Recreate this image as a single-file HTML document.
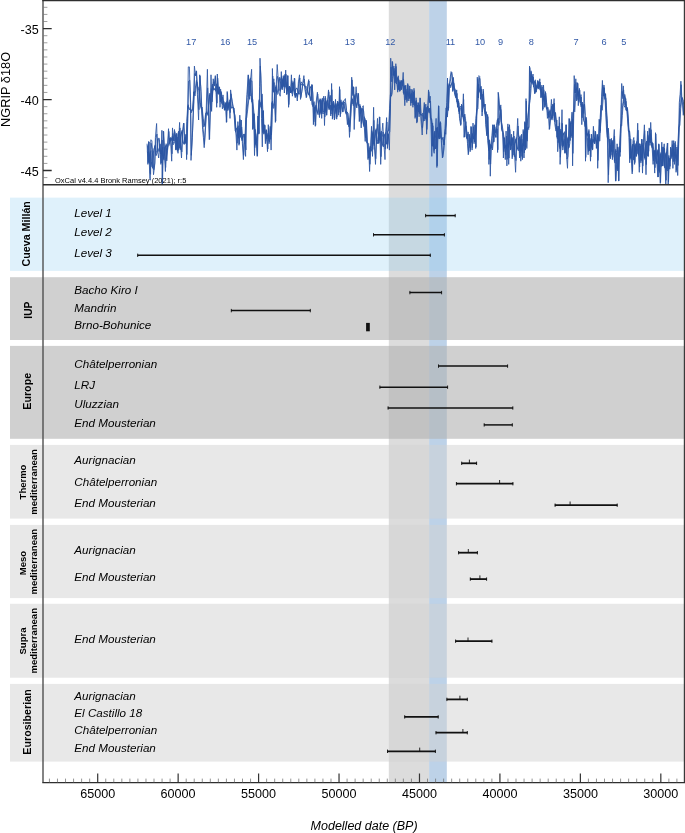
<!DOCTYPE html><html><head><meta charset="utf-8"><title>fig</title>
<style>html,body{margin:0;padding:0;background:#fff}svg{display:block}text{font-family:"Liberation Sans",sans-serif}</style></head><body>
<svg width="685" height="833" viewBox="0 0 685 833">
<rect width="685" height="833" fill="#fff"/>
<rect x="388.8" y="0" width="40.3" height="782.6" fill="#dcdcdc"/>
<rect x="429.1" y="0" width="17.7" height="782.6" fill="#bdd2e8"/>
<rect x="10" y="197.6" width="674.5" height="73.3" fill="rgb(148,208,242)" fill-opacity="0.3"/>
<rect x="10" y="277.2" width="674.5" height="62.8" fill="rgb(178,178,178)" fill-opacity="0.61"/>
<rect x="10" y="345.9" width="674.5" height="92.9" fill="rgb(178,178,178)" fill-opacity="0.61"/>
<rect x="10" y="444.9" width="674.5" height="73.7" fill="rgb(209,209,209)" fill-opacity="0.5"/>
<rect x="10" y="524.9" width="674.5" height="73.2" fill="rgb(209,209,209)" fill-opacity="0.5"/>
<rect x="10" y="603.8" width="674.5" height="73.9" fill="rgb(209,209,209)" fill-opacity="0.5"/>
<rect x="10" y="683.9" width="674.5" height="77.7" fill="rgb(209,209,209)" fill-opacity="0.5"/>
<path d="M147.44 145.4 L148.23 162.7 L149.03 142.0 L150.14 173.0 L150.61 174.3 L151.09 143.2 L152.20 149.6 L153.78 169.8 L154.89 163.1 L155.68 138.7 L156.95 134.1 L157.74 147.4 L159.01 151.6 L160.12 144.3 L161.23 163.0 L162.18 140.1 L162.50 183.7 L163.61 131.5 L164.87 155.4 L165.67 167.5 L166.46 148.7 L167.57 148.8 L168.84 131.4 L169.63 142.0 L170.74 138.4 L172.01 153.8 L172.80 133.4 L173.91 140.9 L174.86 131.6 L175.97 149.2 L177.08 137.0 L178.34 150.3 L179.93 127.9 L180.72 142.9 L181.83 151.9 L182.78 133.9 L183.89 123.2 L185.00 143.7 L186.27 134.7 L186.90 154.6 L187.85 118.7 L188.65 81.1 L189.76 80.1 L190.71 104.5 L191.34 155.3 L192.61 130.3 L193.88 102.0 L194.67 73.6 L195.78 75.7 L196.57 71.3 L197.68 92.4 L198.95 109.7 L200.06 75.8 L201.01 91.2 L201.80 107.3 L202.91 127.1 L203.70 134.0 L204.49 144.5 L205.60 126.9 L206.55 110.9 L207.66 87.9 L208.46 103.7 L209.57 139.0 L210.52 107.0 L211.31 88.5 L212.42 97.2 L213.53 81.7 L214.48 86.1 L215.59 76.6 L216.38 91.6 L217.01 103.2 L217.65 78.0 L218.76 93.3 L219.55 87.2 L220.34 101.8 L221.45 92.7 L222.72 105.1 L223.99 102.3 L225.10 109.9 L225.89 103.6 L226.68 122.1 L227.47 92.8 L228.27 107.7 L229.37 102.5 L230.33 112.6 L230.96 93.8 L232.23 101.2 L233.81 110.2 L235.31 120.4 L236.10 131.1 L237.21 143.2 L238.16 125.7 L239.27 144.0 L240.06 119.5 L240.86 135.6 L241.65 127.0 L242.76 141.6 L243.71 155.4 L244.82 136.6 L245.93 149.9 L246.40 110.4 L247.20 97.6 L248.46 75.2 L249.26 91.8 L250.05 96.0 L250.84 80.8 L251.95 80.9 L252.43 95.8 L253.06 128.7 L254.01 113.8 L254.80 147.7 L255.60 133.7 L256.70 143.3 L257.50 155.8 L258.29 116.0 L259.08 133.5 L259.87 87.4 L260.35 66.1 L261.14 83.6 L261.78 109.9 L262.57 132.6 L263.36 110.8 L264.15 133.4 L264.95 125.3 L265.74 141.2 L266.53 130.0 L267.80 149.0 L268.59 128.4 L269.38 141.9 L270.49 127.4 L271.44 134.9 L272.08 117.8 L272.71 76.0 L273.34 92.3 L274.14 82.5 L274.93 100.3 L275.72 121.1 L276.51 88.3 L277.47 76.4 L278.42 79.5 L279.37 90.2 L280.48 91.2 L281.59 76.5 L282.54 87.8 L283.65 77.1 L284.76 87.2 L286.02 74.3 L286.97 94.2 L287.92 75.7 L288.88 104.6 L289.83 86.8 L290.78 92.7 L291.73 80.5 L292.68 91.5 L293.63 88.6 L294.74 78.6 L295.53 96.9 L296.64 93.0 L297.59 97.3 L298.70 83.4 L299.81 78.0 L300.76 97.7 L301.87 91.2 L302.98 83.5 L304.25 79.0 L305.36 89.4 L306.63 97.0 L307.73 86.9 L309.00 81.0 L309.79 95.4 L311.06 99.9 L312.17 85.0 L312.96 96.0 L313.76 122.0 L314.55 107.5 L315.66 125.3 L316.45 103.9 L317.72 94.0 L318.83 107.1 L319.78 114.7 L320.89 101.1 L322.00 113.9 L322.95 102.4 L324.06 98.4 L324.85 116.9 L325.64 98.2 L326.75 115.2 L327.70 102.4 L328.81 91.8 L329.92 106.4 L330.31 105.1 L331.10 114.1 L331.89 89.7 L332.69 118.3 L333.80 102.6 L334.75 118.7 L335.86 103.6 L336.97 117.1 L337.92 101.8 L339.03 112.4 L339.82 89.4 L340.61 113.9 L341.72 102.9 L342.99 111.8 L344.26 102.0 L345.68 103.6 L346.63 110.7 L347.74 123.6 L349.01 120.6 L349.80 131.8 L350.91 114.9 L352.02 79.9 L352.97 96.3 L353.76 87.3 L354.56 119.6 L355.35 102.3 L356.46 93.0 L357.57 100.8 L358.52 93.9 L359.63 121.1 L360.42 106.0 L361.53 123.5 L362.48 108.7 L363.59 111.0 L364.38 121.6 L365.49 137.7 L366.44 121.4 L367.55 143.7 L368.34 158.1 L369.14 150.2 L369.93 164.3 L370.72 150.4 L371.83 130.7 L372.78 149.5 L373.89 120.3 L374.68 145.4 L375.79 158.7 L376.74 135.9 L377.85 124.3 L378.96 143.1 L379.76 117.0 L381.02 156.7 L382.13 137.5 L383.08 132.0 L384.19 143.4 L385.30 149.2 L386.09 132.4 L386.89 122.0 L387.68 144.3 L388.63 134.0 L389.74 131.7 L390.53 104.2 L391.01 67.1 L391.80 81.8 L392.59 62.4 L393.38 74.9 L394.18 68.3 L394.97 82.8 L396.08 66.4 L396.87 80.5 L397.98 90.2 L398.93 80.0 L400.04 90.9 L401.31 80.5 L402.42 85.4 L403.53 79.0 L404.32 90.6 L405.11 99.9 L406.06 89.3 L407.17 100.7 L407.96 84.7 L409.07 98.8 L410.02 88.9 L411.13 103.1 L412.24 90.4 L413.19 105.0 L414.30 90.6 L415.41 117.0 L416.36 100.3 L417.16 121.8 L418.27 102.8 L419.37 113.6 L420.33 98.2 L421.44 121.0 L422.54 127.9 L423.50 116.1 L424.60 104.9 L425.31 118.2 L426.10 107.5 L426.89 129.5 L427.69 114.9 L428.80 91.7 L429.75 102.6 L430.54 101.0 L431.33 124.0 L432.12 146.0 L432.92 125.7 L433.71 149.5 L434.50 150.2 L435.29 138.5 L436.40 127.7 L437.20 165.8 L437.99 134.2 L438.78 106.0 L439.57 136.5 L440.68 122.8 L441.63 140.3 L442.74 157.3 L443.85 149.9 L445.12 131.8 L446.23 124.0 L447.02 105.1 L447.81 83.5 L448.61 108.2 L449.40 86.3 L450.35 81.3 L451.46 72.5 L452.25 75.6 L453.04 90.5 L453.84 83.3 L454.95 93.5 L456.21 97.7 L457.01 93.4 L457.80 105.4 L458.91 102.8 L459.86 117.4 L460.97 124.5 L461.76 105.3 L462.71 115.2 L463.66 99.5 L464.45 137.0 L465.25 126.5 L466.20 126.0 L466.99 133.6 L467.78 141.5 L468.57 153.3 L469.68 135.7 L470.48 149.7 L471.27 127.2 L472.38 147.6 L473.33 126.7 L474.44 142.0 L475.23 125.3 L476.02 147.2 L476.82 116.4 L477.61 79.1 L478.40 97.7 L479.19 77.9 L479.99 78.8 L480.78 96.1 L481.57 90.2 L482.36 112.0 L483.47 91.4 L484.26 106.8 L485.21 104.2 L486.01 122.9 L487.12 134.1 L487.91 116.6 L488.70 139.1 L489.18 159.5 L489.97 144.2 L490.60 164.1 L491.40 144.0 L492.19 138.4 L493.14 124.9 L493.93 141.8 L494.72 126.9 L495.83 133.4 L496.63 128.4 L497.42 129.0 L497.89 149.8 L498.53 93.6 L499.48 107.2 L500.27 109.7 L501.06 109.5 L501.86 129.0 L502.96 132.6 L503.76 151.7 L504.55 138.1 L505.66 155.1 L506.45 136.1 L507.24 159.4 L508.19 126.8 L508.99 158.1 L509.78 129.5 L510.89 149.4 L511.68 137.6 L512.47 156.7 L513.27 141.9 L514.06 136.0 L514.85 151.1 L515.96 160.6 L516.91 141.5 L518.02 126.0 L518.81 137.7 L519.92 153.1 L520.31 139.3 L521.10 156.5 L521.89 139.2 L522.69 157.6 L523.48 131.5 L524.27 152.9 L525.06 122.5 L525.86 147.0 L526.33 101.1 L527.12 141.2 L527.92 126.9 L529.03 127.7 L529.82 67.5 L530.61 82.3 L531.40 72.3 L532.20 83.4 L533.31 77.1 L534.26 86.7 L535.05 93.3 L535.84 84.6 L536.95 88.8 L538.06 80.9 L539.01 87.4 L540.12 82.1 L541.23 97.4 L542.18 86.9 L542.97 109.1 L543.76 89.8 L544.87 104.9 L545.67 92.9 L546.78 104.4 L547.73 115.4 L548.84 112.7 L549.63 128.9 L550.74 116.8 L551.69 106.1 L552.80 115.9 L553.59 109.0 L554.38 103.0 L555.18 123.5 L556.28 128.7 L557.08 126.2 L558.03 142.7 L558.82 138.7 L559.61 122.7 L560.41 157.2 L561.20 142.3 L562.31 123.3 L563.10 145.8 L564.21 138.6 L565.16 152.6 L566.27 124.8 L567.06 159.2 L567.85 156.6 L568.65 142.9 L569.44 118.9 L570.55 136.9 L571.34 124.2 L572.29 118.8 L572.92 153.4 L573.72 117.1 L574.51 84.4 L575.30 93.1 L576.09 82.4 L577.05 99.7 L577.84 83.4 L578.63 101.8 L579.74 90.1 L580.53 102.6 L581.32 97.1 L582.12 117.8 L582.91 104.7 L583.70 113.5 L584.49 104.1 L585.29 115.6 L585.76 157.4 L586.55 120.1 L587.35 137.3 L588.46 151.5 L589.25 134.2 L590.04 143.9 L590.83 156.9 L591.63 134.3 L592.73 149.4 L593.69 130.3 L594.79 143.6 L595.59 131.8 L596.70 148.0 L597.49 134.8 L597.96 160.5 L598.76 140.6 L599.55 120.2 L600.31 131.0 L601.10 117.4 L601.90 97.2 L602.69 84.8 L603.48 95.6 L604.27 87.9 L605.07 98.3 L605.86 97.8 L606.65 115.3 L607.45 123.3 L607.92 147.1 L608.56 174.8 L609.35 149.9 L610.14 139.4 L610.93 155.2 L611.73 141.3 L612.68 157.3 L613.47 144.5 L614.58 136.0 L615.38 161.5 L615.85 181.1 L616.64 164.4 L617.44 147.0 L618.23 156.8 L618.86 180.8 L619.66 146.7 L620.45 152.2 L620.93 133.6 L621.40 109.1 L622.04 91.4 L622.83 98.7 L623.62 89.9 L624.41 103.6 L625.21 104.8 L626.00 101.3 L626.79 110.4 L627.59 109.0 L628.54 121.9 L629.33 137.4 L629.96 158.6 L630.76 139.1 L631.55 156.1 L632.50 171.6 L633.29 147.1 L634.09 140.5 L634.88 162.6 L635.67 148.3 L636.47 156.2 L637.26 144.2 L638.05 130.2 L638.84 150.8 L639.64 167.0 L640.43 145.8 L641.22 160.7 L642.02 139.4 L642.81 166.1 L643.60 144.5 L644.71 130.6 L645.51 152.0 L646.30 164.6 L647.09 149.3 L647.88 134.8 L648.68 151.3 L649.47 129.2 L650.26 143.0 L651.06 129.7 L651.85 142.1 L652.64 147.9 L653.43 160.7 L654.23 150.6 L655.02 167.7 L655.81 133.9 L656.61 157.1 L657.40 160.9 L658.19 177.0 L658.98 144.4 L659.78 164.7 L660.57 182.3 L661.36 158.2 L662.16 146.9 L662.95 165.8 L663.74 153.7 L664.53 148.3 L665.33 165.8 L666.12 180.3 L666.91 154.2 L667.71 143.2 L668.50 181.9 L669.29 158.5 L670.08 166.4 L670.88 148.3 L671.67 156.4 L672.46 144.6 L673.26 161.6 L674.05 143.1 L674.84 161.4 L675.64 144.7 L676.43 170.3 L677.22 149.4 L678.01 165.5 L678.81 141.5 L679.60 107.5 L680.39 95.8 L681.19 84.7 L681.98 101.0 L682.77 102.5 L683.56 114.0 L684.36 106.6 M147.75 152.6 L148.54 151.5 L149.34 163.5 L150.45 152.0 L150.92 150.6 L151.40 161.6 L152.51 168.3 L154.09 149.1 L155.20 144.9 L155.99 155.8 L157.26 152.5 L158.05 138.4 L159.32 138.3 L160.43 153.9 L161.54 150.1 L162.49 156.2 L162.81 146.9 L163.92 160.2 L165.18 147.6 L165.98 145.1 L166.77 160.9 L167.88 146.4 L169.15 145.5 L169.94 138.3 L171.05 140.8 L172.32 136.3 L173.11 144.8 L174.22 142.8 L175.17 141.4 L176.28 133.1 L177.39 151.4 L178.65 131.1 L180.24 149.8 L181.03 134.7 L182.14 130.2 L183.09 142.6 L184.20 144.5 L185.31 137.6 L186.58 144.8 L187.21 120.0 L188.16 104.7 L188.96 109.3 L190.07 109.5 L191.02 109.3 L191.65 111.3 L192.92 108.3 L194.19 91.4 L194.98 96.0 L196.09 86.8 L196.88 81.9 L197.99 87.6 L199.26 88.5 L200.37 102.7 L201.32 109.2 L202.11 107.1 L203.22 118.3 L204.01 124.9 L204.80 125.1 L205.91 113.0 L206.86 112.2 L207.97 115.5 L208.77 107.3 L209.88 93.2 L210.83 103.7 L211.62 111.4 L212.73 84.0 L213.84 90.3 L214.79 88.7 L215.90 91.4 L216.69 83.9 L217.32 83.4 L217.96 94.0 L219.07 94.0 L219.86 92.2 L220.65 89.1 L221.76 103.5 L223.03 94.9 L224.30 109.8 L225.41 107.9 L226.20 107.4 L226.99 101.3 L227.78 110.7 L228.58 109.0 L229.68 101.5 L230.64 98.3 L231.27 108.4 L232.54 107.0 L234.12 108.0 L235.62 132.2 L236.41 128.6 L237.52 127.2 L238.47 138.2 L239.58 128.4 L240.37 133.4 L241.17 128.3 L241.96 140.7 L243.07 135.1 L244.02 133.9 L245.13 143.7 L246.24 118.0 L246.71 117.9 L247.51 111.1 L248.77 99.6 L249.57 85.4 L250.36 77.9 L251.15 92.1 L252.26 103.3 L252.74 99.5 L253.37 107.0 L254.32 116.1 L255.11 128.9 L255.91 145.3 L257.01 138.7 L257.81 130.5 L258.60 115.8 L259.39 99.0 L260.18 103.3 L260.66 103.7 L261.45 108.8 L262.09 93.9 L262.88 111.6 L263.67 132.4 L264.46 130.9 L265.26 131.5 L266.05 132.2 L266.84 139.1 L268.11 133.2 L268.90 140.7 L269.69 135.4 L270.80 139.4 L271.75 112.0 L272.39 101.1 L273.02 108.2 L273.65 108.2 L274.45 103.6 L275.24 92.6 L276.03 85.5 L276.82 93.6 L277.78 94.3 L278.73 88.6 L279.68 77.2 L280.79 80.1 L281.90 88.8 L282.85 78.6 L283.96 87.1 L285.07 74.1 L286.33 88.8 L287.28 82.2 L288.23 92.4 L289.19 86.0 L290.14 88.1 L291.09 90.3 L292.04 93.6 L292.99 81.6 L293.94 86.1 L295.05 96.5 L295.84 88.7 L296.95 88.0 L297.90 90.2 L299.01 94.5 L300.12 92.8 L301.07 81.8 L302.18 83.5 L303.29 84.3 L304.56 86.2 L305.67 86.4 L306.94 87.1 L308.04 92.9 L309.31 95.6 L310.10 88.4 L311.37 85.8 L312.48 106.3 L313.27 106.7 L314.07 101.6 L314.86 113.2 L315.97 105.1 L316.76 109.3 L318.03 114.7 L319.14 102.6 L320.09 98.6 L321.20 113.9 L322.31 98.2 L323.26 113.6 L324.37 113.0 L325.16 101.3 L325.95 112.6 L327.06 100.4 L328.01 100.1 L329.12 109.9 L330.23 95.3 L330.62 97.6 L331.41 101.9 L332.20 111.2 L333.00 102.4 L334.11 107.5 L335.06 104.4 L336.17 113.6 L337.28 103.2 L338.23 106.1 L339.34 102.3 L340.13 109.9 L340.92 99.8 L342.03 105.3 L343.30 100.8 L344.57 105.6 L345.99 114.2 L346.94 111.9 L348.05 113.1 L349.32 126.6 L350.11 118.4 L351.22 104.8 L352.33 98.9 L353.28 105.7 L354.07 103.6 L354.87 94.5 L355.66 100.3 L356.77 108.0 L357.88 100.3 L358.83 105.7 L359.94 104.3 L360.73 113.3 L361.84 108.1 L362.79 119.4 L363.90 126.6 L364.69 117.9 L365.80 121.3 L366.75 143.1 L367.86 142.6 L368.65 143.5 L369.45 158.1 L370.24 146.0 L371.03 151.4 L372.14 147.8 L373.09 131.9 L374.20 145.8 L374.99 138.8 L376.10 128.7 L377.05 144.0 L378.16 141.0 L379.27 131.8 L380.07 141.3 L381.33 131.0 L382.44 144.8 L383.39 146.9 L384.50 135.4 L385.61 132.5 L386.40 144.1 L387.20 143.7 L387.99 130.8 L388.94 130.1 L390.05 107.1 L390.84 92.6 L391.32 96.3 L392.11 93.8 L392.90 79.8 L393.69 72.0 L394.49 75.6 L395.28 69.6 L396.39 84.0 L397.18 81.4 L398.29 75.8 L399.24 89.3 L400.35 81.8 L401.62 89.4 L402.73 81.2 L403.84 94.4 L404.63 85.5 L405.42 86.0 L406.37 99.2 L407.48 91.8 L408.27 96.4 L409.38 92.2 L410.33 98.5 L411.44 93.3 L412.55 102.7 L413.50 92.1 L414.61 105.7 L415.72 101.4 L416.67 111.5 L417.47 105.0 L418.58 112.0 L419.68 104.8 L420.64 115.2 L421.75 114.9 L422.85 113.1 L423.81 120.0 L424.91 120.6 L425.62 113.3 L426.41 120.4 L427.20 106.9 L428.00 106.2 L429.11 113.1 L430.06 108.3 L430.85 119.5 L431.64 118.8 L432.43 124.6 L433.23 147.0 L434.02 141.3 L434.81 131.0 L435.60 148.8 L436.71 147.7 L437.51 127.2 L438.30 132.1 L439.09 139.1 L439.88 122.7 L440.99 138.5 L441.94 139.3 L443.05 137.1 L444.16 145.0 L445.43 128.8 L446.54 106.4 L447.33 117.1 L448.12 107.9 L448.92 85.8 L449.71 84.0 L450.66 87.7 L451.77 83.7 L452.56 83.1 L453.35 77.3 L454.15 87.4 L455.26 89.6 L456.52 97.2 L457.32 103.5 L458.11 99.3 L459.22 113.9 L460.17 106.2 L461.28 107.3 L462.07 116.9 L463.02 115.2 L463.97 121.5 L464.76 114.0 L465.56 118.8 L466.51 138.3 L467.30 139.3 L468.09 131.9 L468.88 137.9 L469.99 147.7 L470.79 137.9 L471.58 142.5 L472.69 133.5 L473.64 139.1 L474.75 135.2 L475.54 134.8 L476.33 117.0 L477.13 109.8 L477.92 109.0 L478.71 84.2 L479.50 90.8 L480.30 93.1 L481.09 86.2 L481.88 96.3 L482.67 94.3 L483.78 106.3 L484.57 109.8 L485.52 117.1 L486.32 111.7 L487.43 126.3 L488.22 142.2 L489.01 150.8 L489.49 139.8 L490.28 149.0 L490.91 144.7 L491.71 145.4 L492.50 150.0 L493.45 139.4 L494.24 126.5 L495.03 133.9 L496.14 137.3 L496.94 125.2 L497.73 120.0 L498.20 118.2 L498.84 125.5 L499.79 120.8 L500.58 107.2 L501.37 121.8 L502.17 125.0 L503.27 132.4 L504.07 137.9 L504.86 148.4 L505.97 144.9 L506.76 149.1 L507.55 143.5 L508.50 147.5 L509.30 140.3 L510.09 145.0 L511.20 144.1 L511.99 145.2 L512.78 137.5 L513.58 145.7 L514.37 156.7 L515.16 143.8 L516.27 137.6 L517.22 147.0 L518.33 150.8 L519.12 139.0 L520.23 135.6 L520.62 151.1 L521.41 144.8 L522.20 152.2 L523.00 143.0 L523.79 146.1 L524.58 130.7 L525.37 139.9 L526.17 128.6 L526.64 139.6 L527.43 123.9 L528.23 115.1 L529.34 105.0 L530.13 100.4 L530.92 90.8 L531.71 77.5 L532.51 76.4 L533.62 87.1 L534.57 81.7 L535.36 79.8 L536.15 92.2 L537.26 85.3 L538.37 88.1 L539.32 82.0 L540.43 89.4 L541.54 89.4 L542.49 96.8 L543.28 91.7 L544.07 101.4 L545.18 93.9 L545.98 106.2 L547.09 109.0 L548.04 107.5 L549.15 117.6 L549.94 109.7 L551.05 114.2 L552.00 120.1 L553.11 104.2 L553.90 110.8 L554.69 121.8 L555.49 112.4 L556.59 122.0 L557.39 138.8 L558.34 126.2 L559.13 138.1 L559.92 148.6 L560.72 129.2 L561.51 131.9 L562.62 147.2 L563.41 134.0 L564.52 131.7 L565.47 141.8 L566.58 154.8 L567.37 143.8 L568.16 136.8 L568.96 147.7 L569.75 143.7 L570.86 121.4 L571.65 137.5 L572.60 137.5 L573.23 113.5 L574.03 110.2 L574.82 111.8 L575.61 93.5 L576.40 89.4 L577.36 86.7 L578.15 96.8 L578.94 90.5 L580.05 98.5 L580.84 103.6 L581.63 106.3 L582.43 102.1 L583.22 106.5 L584.01 121.5 L584.80 122.6 L585.60 128.1 L586.07 117.1 L586.86 135.2 L587.66 135.4 L588.77 131.3 L589.56 150.8 L590.35 145.5 L591.14 138.2 L591.94 148.6 L593.04 139.1 L594.00 142.6 L595.10 138.1 L595.90 141.6 L597.01 140.7 L597.80 143.4 L598.27 136.7 L599.07 140.6 L599.86 141.1 L600.62 116.6 L601.41 105.3 L602.21 110.3 L603.00 100.8 L603.79 87.4 L604.58 95.9 L605.38 93.6 L606.17 114.3 L606.96 130.5 L607.76 139.0 L608.23 128.0 L608.87 135.5 L609.66 149.1 L610.45 158.8 L611.24 143.2 L612.04 152.0 L612.99 140.0 L613.78 148.9 L614.89 162.9 L615.69 149.3 L616.16 151.5 L616.95 151.4 L617.75 171.0 L618.54 160.5 L619.17 147.7 L619.97 146.0 L620.76 128.7 L621.24 124.7 L621.71 125.5 L622.35 115.3 L623.14 103.7 L623.93 101.3 L624.72 94.4 L625.52 97.8 L626.31 110.8 L627.10 108.0 L627.90 120.0 L628.85 131.8 L629.64 131.2 L630.27 137.7 L631.07 159.5 L631.86 153.6 L632.81 144.0 L633.60 160.1 L634.40 158.2 L635.19 143.7 L635.98 151.2 L636.78 141.5 L637.57 145.6 L638.36 155.3 L639.15 143.5 L639.95 145.6 L640.74 159.8 L641.53 154.3 L642.33 158.0 L643.12 143.2 L643.91 148.9 L645.02 159.5 L645.82 146.6 L646.61 141.0 L647.40 156.2 L648.19 153.3 L648.99 136.4 L649.78 142.2 L650.57 133.5 L651.37 142.8 L652.16 148.1 L652.95 143.3 L653.74 150.2 L654.54 156.0 L655.33 149.9 L656.12 161.2 L656.92 163.9 L657.71 149.7 L658.50 156.1 L659.29 172.5 L660.09 165.4 L660.88 152.6 L661.67 165.6 L662.47 165.8 L663.26 146.9 L664.05 154.7 L664.84 168.1 L665.64 154.5 L666.43 151.9 L667.22 170.9 L668.02 169.3 L668.81 155.4 L669.60 161.1 L670.39 158.9 L671.19 158.8 L671.98 156.2 L672.77 155.9 L673.57 148.6 L674.36 155.7 L675.15 151.9 L675.95 158.7 L676.74 154.6 L677.53 161.5 L678.32 142.7 L679.12 127.5 L679.91 125.0 L680.70 108.8 L681.50 101.9 L682.29 97.5 L683.08 100.2 L683.87 101.3 L684.67 109.3 M147.29 151.9 L148.08 153.0 L148.88 162.0 L149.99 153.5 L150.46 152.1 L150.94 160.1 L152.05 166.8 L153.63 150.6 L154.74 146.4 L155.53 154.3 L156.80 151.0 L157.59 139.0 L158.86 139.8 L159.97 150.8 L161.08 151.6 L162.03 154.7 L162.35 148.4 L163.46 158.7 L164.72 147.7 L165.52 146.6 L166.31 159.2 L167.42 146.5 L168.69 144.0 L169.48 138.6 L170.59 141.0 L171.86 137.8 L172.65 143.3 L173.76 142.3 L174.71 139.4 L175.82 134.6 L176.93 149.9 L178.19 132.6 L179.78 148.3 L180.57 136.7 L181.68 131.7 L182.63 142.3 L183.74 143.0 L184.85 137.5 L186.12 143.0 L186.75 121.5 L187.70 106.2 L188.50 107.8 L189.61 108.0 L190.56 109.0 L191.19 112.8 L192.46 109.8 L193.73 92.0 L194.52 94.5 L195.63 85.9 L196.42 80.3 L197.53 87.0 L198.80 90.0 L199.91 101.2 L200.86 107.7 L201.65 107.1 L202.76 117.7 L203.55 126.9 L204.34 126.6 L205.45 114.9 L206.40 112.2 L207.51 114.0 L208.31 107.2 L209.42 94.7 L210.37 104.1 L211.16 109.9 L212.27 85.5 L213.38 89.3 L214.33 88.5 L215.44 89.9 L216.23 84.4 L216.86 84.9 L217.50 92.5 L218.61 94.1 L219.40 92.3 L220.19 90.6 L221.30 100.8 L222.57 97.1 L223.84 107.8 L224.95 108.4 L225.74 107.8 L226.53 102.8 L227.32 109.2 L228.12 108.9 L229.22 101.7 L230.18 99.8 L230.81 106.9 L232.08 107.6 L233.66 107.8 L235.16 130.7 L235.95 129.0 L237.06 128.7 L238.01 136.7 L239.12 130.0 L239.91 131.9 L240.71 130.0 L241.50 139.2 L242.61 136.3 L243.56 135.4 L244.67 143.7 L245.78 119.5 L246.25 115.4 L247.05 109.6 L248.31 98.1 L249.11 87.0 L249.90 79.4 L250.69 90.9 L251.80 101.8 L252.28 98.5 L252.91 108.5 L253.86 116.1 L254.65 130.4 L255.45 143.8 L256.55 139.0 L257.35 132.0 L258.14 115.8 L258.93 100.5 L259.72 102.2 L260.20 102.2 L260.99 107.3 L261.63 95.4 L262.42 113.1 L263.21 130.9 L264.00 131.1 L264.80 129.8 L265.59 134.6 L266.38 138.2 L267.65 134.7 L268.44 139.2 L269.23 135.8 L270.34 137.3 L271.29 113.5 L271.93 102.6 L272.56 106.7 L273.19 106.7 L273.99 102.1 L274.78 92.4 L275.57 87.0 L276.36 92.3 L277.32 92.8 L278.27 85.7 L279.22 78.7 L280.33 81.6 L281.44 87.2 L282.39 80.1 L283.50 85.8 L284.61 75.6 L285.87 87.3 L286.82 84.0 L287.77 90.9 L288.73 87.5 L289.68 87.8 L290.63 90.7 L291.58 92.1 L292.53 83.0 L293.48 86.1 L294.59 95.0 L295.38 89.7 L296.49 88.7 L297.44 89.4 L298.55 94.0 L299.66 91.3 L300.61 83.5 L301.72 85.0 L302.83 84.3 L304.10 85.4 L305.21 86.7 L306.48 89.4 L307.58 91.9 L308.85 94.9 L309.64 88.0 L310.91 86.8 L312.02 104.8 L312.81 104.9 L313.61 103.1 L314.40 113.4 L315.51 106.6 L316.30 109.1 L317.57 113.2 L318.68 102.9 L319.63 100.1 L320.74 112.7 L321.85 99.7 L322.80 111.5 L323.91 111.5 L324.70 102.8 L325.49 111.1 L326.60 101.9 L327.55 100.0 L328.66 108.4 L329.77 96.8 L330.16 98.6 L330.95 102.7 L331.74 109.7 L332.54 103.9 L333.65 107.4 L334.60 106.6 L335.71 111.3 L336.82 104.7 L337.77 105.8 L338.88 104.2 L339.67 108.4 L340.46 101.3 L341.57 105.3 L342.84 102.3 L344.11 105.7 L345.53 112.7 L346.48 111.5 L347.59 114.0 L348.86 126.7 L349.65 119.9 L350.76 104.9 L351.87 97.4 L352.82 104.1 L353.61 102.1 L354.41 96.0 L355.20 100.5 L356.31 106.5 L357.42 100.4 L358.37 105.6 L359.48 105.8 L360.27 113.6 L361.38 109.6 L362.33 118.0 L363.44 125.1 L364.23 116.7 L365.34 122.8 L366.29 141.6 L367.40 142.5 L368.19 145.0 L368.99 157.9 L369.78 147.5 L370.57 151.2 L371.68 146.3 L372.63 133.4 L373.74 144.3 L374.53 139.7 L375.64 130.2 L376.59 143.6 L377.70 139.5 L378.81 132.9 L379.61 139.8 L380.87 132.5 L381.98 143.9 L382.93 145.4 L384.04 136.4 L385.15 134.0 L385.94 144.1 L386.74 142.2 L387.53 132.3 L388.48 130.1 L389.59 108.6 L390.38 94.5 L390.86 94.8 L391.65 92.3 L392.44 78.3 L393.23 72.8 L394.03 74.8 L394.82 71.1 L395.93 82.5 L396.72 81.3 L397.83 77.3 L398.78 89.7 L399.89 81.7 L401.16 89.9 L402.27 80.6 L403.38 92.9 L404.17 85.9 L404.96 87.5 L405.91 97.7 L407.02 91.6 L407.81 94.5 L408.92 93.2 L409.87 98.0 L410.98 94.5 L412.09 100.9 L413.04 94.6 L414.15 104.2 L415.26 102.9 L416.21 110.0 L417.01 106.5 L418.12 110.9 L419.22 106.0 L420.18 113.7 L421.29 115.1 L422.39 114.6 L423.35 121.2 L424.45 119.1 L425.16 112.6 L425.95 118.8 L426.74 108.4 L427.54 106.5 L428.65 111.6 L429.60 108.2 L430.39 118.0 L431.18 118.7 L431.97 126.1 L432.77 145.5 L433.56 140.8 L434.35 132.5 L435.14 148.9 L436.25 146.2 L437.05 128.7 L437.84 132.4 L438.63 137.6 L439.42 124.2 L440.53 137.0 L441.48 139.2 L442.59 138.6 L443.70 144.9 L444.97 128.3 L446.08 107.9 L446.87 115.0 L447.66 106.4 L448.46 87.3 L449.25 83.9 L450.20 86.2 L451.31 84.2 L452.10 81.7 L452.89 78.4 L453.69 86.1 L454.80 89.1 L456.06 97.2 L456.86 102.1 L457.65 100.9 L458.76 111.5 L459.71 107.4 L460.82 108.8 L461.61 114.6 L462.56 115.2 L463.51 120.0 L464.30 115.5 L465.10 120.0 L466.05 136.8 L466.84 137.9 L467.63 134.0 L468.42 139.4 L469.53 145.3 L470.33 139.4 L471.12 141.1 L472.23 135.0 L473.18 137.6 L474.29 135.2 L475.08 134.0 L475.87 118.5 L476.67 110.1 L477.46 107.5 L478.25 85.3 L479.04 89.3 L479.84 91.6 L480.63 87.3 L481.42 96.5 L482.21 95.8 L483.32 104.8 L484.11 108.8 L485.06 114.3 L485.86 114.0 L486.97 128.1 L487.76 140.7 L488.55 149.1 L489.03 141.3 L489.82 148.0 L490.45 146.2 L491.25 145.2 L492.04 148.1 L492.99 138.2 L493.78 128.9 L494.57 134.1 L495.68 137.4 L496.48 125.5 L497.27 119.7 L497.74 119.7 L498.38 124.0 L499.33 119.9 L500.12 106.7 L500.91 120.3 L501.71 126.3 L502.81 132.4 L503.61 139.4 L504.40 147.7 L505.51 146.5 L506.30 147.6 L507.09 145.0 L508.04 146.0 L508.84 141.8 L509.63 143.5 L510.74 144.7 L511.53 145.7 L512.32 139.0 L513.12 145.0 L513.91 155.2 L514.70 144.8 L515.81 139.1 L516.76 147.2 L517.87 149.3 L518.66 138.7 L519.77 137.1 L520.16 149.6 L520.95 146.1 L521.74 150.7 L522.54 144.5 L523.33 144.6 L524.12 132.2 L524.91 138.4 L525.71 130.1 L526.18 138.1 L526.97 125.4 L527.77 117.7 L528.88 106.5 L529.67 98.9 L530.46 88.7 L531.25 77.3 L532.05 75.6 L533.16 84.9 L534.11 82.0 L534.90 81.3 L535.69 92.1 L536.80 86.0 L537.91 87.8 L538.86 82.2 L539.97 90.2 L541.08 91.1 L542.03 94.6 L542.82 93.2 L543.61 99.9 L544.72 95.9 L545.52 105.0 L546.63 109.3 L547.58 107.3 L548.69 117.3 L549.48 111.2 L550.59 114.0 L551.54 118.6 L552.65 104.4 L553.44 110.5 L554.23 120.3 L555.03 113.4 L556.13 121.6 L556.93 137.3 L557.88 127.7 L558.67 138.0 L559.46 147.1 L560.26 130.7 L561.05 134.5 L562.16 145.7 L562.95 135.5 L564.06 133.1 L565.01 141.6 L566.12 153.3 L566.91 145.3 L567.70 138.3 L568.50 148.4 L569.29 142.2 L570.40 122.9 L571.19 134.8 L572.14 136.0 L572.77 115.0 L573.57 109.8 L574.36 110.3 L575.15 93.6 L575.94 89.0 L576.90 88.2 L577.69 95.3 L578.48 92.0 L579.59 97.7 L580.38 103.6 L581.17 106.9 L581.97 103.6 L582.76 106.3 L583.55 120.3 L584.34 121.1 L585.14 126.6 L585.61 118.6 L586.40 133.7 L587.20 135.3 L588.31 132.8 L589.10 149.3 L589.89 145.4 L590.68 139.7 L591.48 147.1 L592.58 140.8 L593.54 141.1 L594.64 137.5 L595.44 139.2 L596.55 141.5 L597.34 143.5 L597.81 138.2 L598.61 140.6 L599.40 139.6 L600.16 117.4 L600.95 105.4 L601.75 107.7 L602.54 99.3 L603.33 88.2 L604.12 94.2 L604.92 94.7 L605.71 112.8 L606.50 129.0 L607.30 137.5 L607.77 129.5 L608.41 137.0 L609.20 149.0 L609.99 157.3 L610.78 145.0 L611.58 150.7 L612.53 141.5 L613.32 148.7 L614.43 161.4 L615.23 150.8 L615.70 153.0 L616.49 153.3 L617.29 169.5 L618.08 160.6 L618.71 149.2 L619.51 145.8 L620.30 130.2 L620.78 124.7 L621.25 124.0 L621.89 113.8 L622.68 105.2 L623.47 99.8 L624.26 96.0 L625.06 98.0 L625.85 109.7 L626.64 108.2 L627.44 118.3 L628.39 131.1 L629.18 130.8 L629.81 139.2 L630.61 158.0 L631.40 153.4 L632.35 145.5 L633.14 158.6 L633.94 156.7 L634.73 145.2 L635.52 150.9 L636.32 143.6 L637.11 145.5 L637.90 153.8 L638.69 144.4 L639.49 147.1 L640.28 158.3 L641.07 155.3 L641.87 156.5 L642.66 144.7 L643.45 148.2 L644.56 158.0 L645.36 147.4 L646.15 142.5 L646.94 155.0 L647.73 151.8 L648.53 137.9 L649.32 140.7 L650.11 134.8 L650.91 141.3 L651.70 146.5 L652.49 142.6 L653.28 152.1 L654.08 156.4 L654.87 151.4 L655.66 159.7 L656.46 163.1 L657.25 151.2 L658.04 157.6 L658.83 171.0 L659.63 165.5 L660.42 154.1 L661.21 166.5 L662.01 164.3 L662.80 148.4 L663.59 154.6 L664.38 166.6 L665.18 156.6 L665.97 153.4 L666.76 169.4 L667.56 167.8 L668.35 156.9 L669.14 161.6 L669.93 160.3 L670.73 158.0 L671.52 156.3 L672.31 154.6 L673.11 150.1 L673.90 155.1 L674.69 154.2 L675.49 157.2 L676.28 156.1 L677.07 160.0 L677.86 144.2 L678.66 128.8 L679.45 123.5 L680.24 108.1 L681.04 100.4 L681.83 97.9 L682.62 100.2 L683.41 102.1 L684.21 108.9" fill="none" stroke="#2a55a3" stroke-width="0.85" stroke-linejoin="round"/>
<path d="M147.1 143.7 L147.9 164.4 L148.7 141.4 L149.8 178.6 L150.3 180.2 L150.8 139.8 L151.9 140.6 L153.5 174.7 L154.6 165.9 L155.4 137.4 L156.6 123.5 L157.4 150.1 L158.7 158.0 L159.8 143.7 L160.9 164.4 L161.9 130.3 L162.2 184.0 L163.3 131.1 L164.6 156.4 L165.4 171.5 L166.1 143.7 L167.3 150.1 L168.5 128.7 L169.3 143.7 L170.4 137.4 L171.7 161.2 L172.5 127.9 L173.6 140.6 L174.5 129.5 L175.7 150.1 L176.8 134.2 L178.0 153.3 L179.6 122.4 L180.4 143.7 L181.5 158.0 L182.5 131.1 L183.6 123.1 L184.7 143.7 L186.0 134.2 L186.6 159.6 L187.5 123.1 L188.3 66.9 L189.4 66.9 L190.4 102.5 L191.0 160.4 L192.3 137.4 L193.6 102.5 L194.4 66.1 L195.5 75.6 L196.3 70.8 L197.4 94.6 L198.6 120.0 L199.7 74.8 L200.7 86.7 L201.5 107.3 L202.6 129.5 L203.4 137.4 L204.2 147.7 L205.3 127.9 L206.2 110.5 L207.4 69.3 L208.1 102.5 L209.3 139.8 L210.2 107.3 L211.0 74.8 L212.1 101.8 L213.2 78.8 L214.2 85.1 L215.3 75.6 L216.1 94.6 L216.7 107.3 L217.3 74.0 L218.4 93.0 L219.2 86.7 L220.0 107.3 L221.1 91.5 L222.4 108.9 L223.7 101.0 L224.8 110.5 L225.6 102.5 L226.4 122.4 L227.2 91.5 L228.0 107.3 L229.1 102.5 L230.0 118.4 L230.6 89.9 L231.9 101.0 L233.5 110.5 L235.0 115.2 L235.8 131.1 L236.9 150.1 L237.9 121.6 L239.0 145.3 L239.8 115.2 L240.5 137.4 L241.3 120.0 L242.4 143.7 L243.4 159.6 L244.5 134.2 L245.6 156.4 L246.1 108.9 L246.9 94.6 L248.2 74.8 L248.9 93.0 L249.7 99.4 L250.5 80.4 L251.6 69.3 L252.1 94.6 L252.7 129.5 L253.7 113.6 L254.5 155.6 L255.3 129.5 L256.4 143.7 L257.2 156.4 L258.0 116.0 L258.8 134.2 L259.6 86.7 L260.0 58.2 L260.8 75.6 L261.5 118.4 L262.3 146.9 L263.1 110.5 L263.8 134.2 L264.6 124.7 L265.4 143.7 L266.2 129.5 L267.5 151.7 L268.3 124.7 L269.1 143.7 L270.2 126.3 L271.1 150.1 L271.8 124.7 L272.4 68.5 L273.0 91.5 L273.8 78.8 L274.6 102.5 L275.4 122.4 L276.2 86.7 L277.2 64.5 L278.1 77.2 L279.1 93.0 L280.2 96.2 L281.3 71.6 L282.2 89.9 L283.3 75.6 L284.4 93.0 L285.7 70.1 L286.7 94.6 L287.6 75.6 L288.6 107.3 L289.5 86.7 L290.5 93.0 L291.4 74.8 L292.4 96.2 L293.3 89.9 L294.4 78.0 L295.2 97.8 L296.3 93.0 L297.3 101.0 L298.4 81.9 L299.5 74.8 L300.5 99.4 L301.6 93.0 L302.7 83.5 L303.9 75.6 L305.0 89.9 L306.3 97.8 L307.4 86.7 L308.7 79.6 L309.5 96.2 L310.8 101.0 L311.9 84.3 L312.7 93.0 L313.4 124.7 L314.2 107.3 L315.3 126.3 L316.1 102.5 L317.4 92.2 L318.5 107.3 L319.5 117.6 L320.6 99.4 L321.7 118.4 L322.6 101.0 L323.7 96.2 L324.5 125.5 L325.3 96.2 L326.4 115.2 L327.4 102.5 L328.5 89.9 L329.6 108.9 L330.0 105.7 L330.8 116.0 L331.6 83.5 L332.4 119.2 L333.5 101.0 L334.4 120.0 L335.5 99.4 L336.7 119.2 L337.6 101.0 L338.7 115.2 L339.5 86.7 L340.3 116.8 L341.4 102.5 L342.7 112.1 L343.9 101.0 L345.4 98.6 L346.3 110.5 L347.4 124.7 L348.7 118.4 L349.5 137.4 L350.6 115.2 L351.7 77.2 L352.7 94.6 L353.5 86.7 L354.2 129.5 L355.0 102.5 L356.1 86.7 L357.3 101.0 L358.2 93.0 L359.3 121.6 L360.1 105.7 L361.2 127.9 L362.2 107.3 L363.3 105.7 L364.1 123.1 L365.2 141.4 L366.1 120.0 L367.2 143.7 L368.0 159.6 L368.8 150.1 L369.6 171.5 L370.4 150.1 L371.5 126.3 L372.5 156.4 L373.6 107.3 L374.4 146.9 L375.5 164.4 L376.4 134.2 L377.5 118.4 L378.7 143.7 L379.4 116.8 L380.7 164.4 L381.8 134.2 L382.8 123.1 L383.9 143.7 L385.0 159.6 L385.8 131.1 L386.6 117.6 L387.4 148.5 L388.3 134.2 L389.4 150.1 L390.2 108.9 L390.7 58.2 L391.5 75.6 L392.3 61.3 L393.1 75.6 L393.9 66.1 L394.7 89.9 L395.8 63.7 L396.6 80.4 L397.7 92.2 L398.6 78.8 L399.7 91.5 L401.0 80.4 L402.1 85.9 L403.2 72.4 L404.0 91.5 L404.8 105.7 L405.8 85.1 L406.9 102.5 L407.7 83.5 L408.8 101.0 L409.7 85.9 L410.8 105.7 L411.9 89.1 L412.9 107.3 L414.0 88.3 L415.1 118.4 L416.1 97.8 L416.8 123.1 L418.0 102.5 L419.1 116.8 L420.0 97.8 L421.1 121.6 L422.2 135.0 L423.2 115.2 L424.3 102.5 L425.0 118.4 L425.8 104.1 L426.6 134.2 L427.4 115.2 L428.5 89.9 L429.4 102.5 L430.2 96.2 L431.0 124.7 L431.8 156.4 L432.6 123.1 L433.4 150.1 L434.2 153.3 L435.0 137.4 L436.1 118.4 L436.9 167.5 L437.7 134.2 L438.5 105.7 L439.3 139.0 L440.4 121.6 L441.3 140.6 L442.4 158.0 L443.5 150.1 L444.8 132.7 L445.9 134.2 L446.7 102.5 L447.5 78.0 L448.3 110.5 L449.1 86.7 L450.0 78.8 L451.1 71.6 L451.9 72.4 L452.7 91.5 L453.5 81.9 L454.6 94.6 L455.9 97.8 L456.7 89.9 L457.5 107.3 L458.6 101.0 L459.5 118.4 L460.7 125.5 L461.5 104.1 L462.4 115.2 L463.4 93.8 L464.1 137.4 L464.9 129.5 L465.9 121.6 L466.7 132.7 L467.5 143.7 L468.3 154.8 L469.4 134.2 L470.2 151.7 L471.0 126.3 L472.1 150.1 L473.0 123.1 L474.1 143.7 L474.9 124.7 L475.7 148.5 L476.5 118.4 L477.3 77.2 L478.1 97.8 L478.9 75.6 L479.7 76.4 L480.5 99.4 L481.3 89.1 L482.1 116.0 L483.2 89.1 L484.0 105.7 L484.9 104.1 L485.7 124.7 L486.8 135.8 L487.6 114.4 L488.4 137.4 L488.9 164.4 L489.7 143.7 L490.3 176.2 L491.1 143.7 L491.9 135.8 L492.8 124.7 L493.6 142.2 L494.4 124.7 L495.5 132.7 L496.3 129.5 L497.1 131.1 L497.6 152.5 L498.2 92.2 L499.2 104.1 L500.0 110.5 L500.8 104.9 L501.5 129.5 L502.7 132.7 L503.4 158.0 L504.2 137.4 L505.3 159.6 L506.1 131.1 L506.9 165.9 L507.9 123.9 L508.7 164.4 L509.5 124.7 L510.6 150.1 L511.4 134.2 L512.2 158.8 L513.0 140.6 L513.7 131.1 L514.5 153.3 L515.6 172.3 L516.6 140.6 L517.7 118.4 L518.5 137.4 L519.6 158.0 L520.0 137.4 L520.8 161.2 L521.6 134.2 L522.4 159.6 L523.2 129.5 L524.0 158.0 L524.8 121.6 L525.5 150.1 L526.0 98.6 L526.8 148.5 L527.6 127.9 L528.7 129.5 L529.5 66.1 L530.3 80.4 L531.1 70.8 L531.9 83.5 L533.0 74.0 L533.9 86.7 L534.7 93.8 L535.5 81.9 L536.6 89.9 L537.7 80.4 L538.7 89.1 L539.8 78.8 L540.9 97.8 L541.9 85.1 L542.7 110.5 L543.5 85.1 L544.6 107.3 L545.4 91.5 L546.5 102.5 L547.4 118.4 L548.5 112.1 L549.3 129.5 L550.4 116.8 L551.4 99.4 L552.5 118.4 L553.3 108.9 L554.1 98.6 L554.9 124.7 L556.0 131.1 L556.8 120.0 L557.7 151.7 L558.5 139.0 L559.3 116.8 L560.1 164.4 L560.9 143.7 L562.0 109.7 L562.8 150.1 L563.9 140.6 L564.8 153.3 L566.0 124.7 L566.8 159.6 L567.5 168.3 L568.3 140.6 L569.1 118.4 L570.2 140.6 L571.0 123.1 L572.0 112.1 L572.6 165.9 L573.4 118.4 L574.2 75.6 L575.0 93.0 L575.8 78.8 L576.7 101.0 L577.5 82.7 L578.3 105.7 L579.4 88.3 L580.2 102.5 L581.0 94.6 L581.8 124.7 L582.6 104.1 L583.4 112.1 L584.2 91.5 L585.0 115.2 L585.5 161.2 L586.2 118.4 L587.0 137.4 L588.1 154.8 L588.9 129.5 L589.7 143.7 L590.5 161.2 L591.3 134.2 L592.4 150.1 L593.4 126.3 L594.5 143.7 L595.3 131.1 L596.4 148.5 L597.2 134.2 L597.7 168.3 L598.4 140.6 L599.2 119.2 L600.0 132.7 L600.8 118.4 L601.6 96.2 L602.4 80.4 L603.2 96.2 L604.0 85.1 L604.8 99.4 L605.6 93.9 L606.3 105.7 L607.1 118.4 L607.6 150.1 L608.2 182.7 L609.0 150.1 L609.8 139.0 L610.6 156.5 L611.4 138.3 L612.4 159.7 L613.2 143.8 L614.3 129.5 L615.1 164.4 L615.5 181.1 L616.3 166.0 L617.1 143.8 L617.9 156.5 L618.6 181.1 L619.3 147.0 L620.1 156.5 L620.6 134.3 L621.1 102.6 L621.7 83.5 L622.5 96.2 L623.3 85.9 L624.1 105.7 L624.9 107.3 L625.7 98.6 L626.5 110.5 L627.3 107.3 L628.2 120.0 L629.0 137.5 L629.7 162.8 L630.4 139.0 L631.2 156.5 L632.2 173.9 L633.0 140.6 L633.8 137.5 L634.6 164.4 L635.4 147.0 L636.2 156.5 L636.9 143.8 L637.7 123.2 L638.5 153.3 L639.3 172.3 L640.1 143.8 L640.9 162.8 L641.7 139.0 L642.5 173.1 L643.3 143.8 L644.4 124.8 L645.2 153.3 L646.0 174.7 L646.8 148.6 L647.6 131.1 L648.4 156.5 L649.2 127.9 L650.0 145.4 L650.7 122.4 L651.5 140.6 L652.3 150.1 L653.1 164.4 L653.9 150.1 L654.7 173.1 L655.5 132.7 L656.3 156.5 L657.1 166.0 L657.9 177.1 L658.7 143.8 L659.5 164.4 L660.3 183.4 L661.1 156.5 L661.8 142.2 L662.6 166.0 L663.4 153.3 L664.2 143.8 L665.0 166.0 L665.8 184.0 L666.6 150.1 L667.4 143.0 L668.2 184.0 L669.0 158.1 L669.8 169.2 L670.6 147.0 L671.4 156.5 L672.2 140.6 L672.9 168.4 L673.7 140.6 L674.5 164.4 L675.3 141.4 L676.1 172.3 L676.9 147.0 L677.7 175.5 L678.5 143.8 L679.3 102.6 L680.1 94.6 L680.9 81.2 L681.7 101.0 L682.5 102.6 L683.3 115.3 L684.0 105.7" fill="none" stroke="#2a55a3" stroke-width="0.85" stroke-linejoin="round"/>
<path d="M43.0 782.6 V0" stroke="#505050" stroke-width="1.4" fill="none"/>
<path d="M684.5 0 V782.6" stroke="#3a3a3a" stroke-width="1.4" fill="none"/>
<path d="M42.3 0.5 H685.2 M42.3 782.6 H685.2" stroke="#2e2e2e" stroke-width="1.25" fill="none"/>
<path d="M43.0 184.75 H684.5" stroke="#2e2e2e" stroke-width="1.7" fill="none"/>
<g opacity="0.999">
<path d="M43.0 28.60 h8.7M43.0 99.55 h8.7M43.0 170.50 h8.7" stroke="#2e2e2e" stroke-width="1.3" fill="none"/>
<path d="M43.0 7.32 h4.4M43.0 14.41 h4.4M43.0 21.51 h4.4M43.0 35.70 h4.4M43.0 42.79 h4.4M43.0 49.89 h4.4M43.0 56.98 h4.4M43.0 64.08 h4.4M43.0 71.17 h4.4M43.0 78.27 h4.4M43.0 85.36 h4.4M43.0 92.45 h4.4M43.0 106.65 h4.4M43.0 113.74 h4.4M43.0 120.84 h4.4M43.0 127.93 h4.4M43.0 135.03 h4.4M43.0 142.12 h4.4M43.0 149.22 h4.4M43.0 156.31 h4.4M43.0 163.41 h4.4M43.0 177.59 h4.4" stroke="#777" stroke-width="0.7" fill="none"/>
<text x="38.7" y="33.7" font-size="12.6" text-anchor="end" fill="#000">-35</text>
<text x="38.7" y="104.7" font-size="12.6" text-anchor="end" fill="#000">-40</text>
<text x="38.7" y="175.6" font-size="12.6" text-anchor="end" fill="#000">-45</text>
<text transform="translate(10.1,89.4) rotate(-90)" font-size="12.4" textLength="75" lengthAdjust="spacingAndGlyphs" text-anchor="middle" fill="#000">NGRIP δ18O</text>
<path d="M97.70 782.6 v-9.2M178.14 782.6 v-9.2M258.59 782.6 v-9.2M339.03 782.6 v-9.2M419.48 782.6 v-9.2M499.92 782.6 v-9.2M580.37 782.6 v-9.2M660.82 782.6 v-9.2" stroke="#333" stroke-width="1.2" fill="none"/>
<path d="M49.43 782.6 v-4M57.48 782.6 v-4M65.52 782.6 v-4M73.57 782.6 v-4M81.61 782.6 v-4M89.66 782.6 v-4M105.74 782.6 v-4M113.79 782.6 v-4M121.83 782.6 v-4M129.88 782.6 v-4M137.92 782.6 v-4M145.97 782.6 v-4M154.01 782.6 v-4M162.06 782.6 v-4M170.10 782.6 v-4M186.19 782.6 v-4M194.23 782.6 v-4M202.28 782.6 v-4M210.32 782.6 v-4M218.37 782.6 v-4M226.41 782.6 v-4M234.46 782.6 v-4M242.50 782.6 v-4M250.55 782.6 v-4M266.63 782.6 v-4M274.68 782.6 v-4M282.72 782.6 v-4M290.77 782.6 v-4M298.81 782.6 v-4M306.86 782.6 v-4M314.90 782.6 v-4M322.95 782.6 v-4M330.99 782.6 v-4M347.08 782.6 v-4M355.12 782.6 v-4M363.17 782.6 v-4M371.21 782.6 v-4M379.26 782.6 v-4M387.30 782.6 v-4M395.35 782.6 v-4M403.39 782.6 v-4M411.44 782.6 v-4M427.52 782.6 v-4M435.57 782.6 v-4M443.61 782.6 v-4M451.66 782.6 v-4M459.70 782.6 v-4M467.75 782.6 v-4M475.79 782.6 v-4M483.84 782.6 v-4M491.88 782.6 v-4M507.97 782.6 v-4M516.01 782.6 v-4M524.06 782.6 v-4M532.10 782.6 v-4M540.15 782.6 v-4M548.19 782.6 v-4M556.24 782.6 v-4M564.28 782.6 v-4M572.33 782.6 v-4M588.41 782.6 v-4M596.46 782.6 v-4M604.50 782.6 v-4M612.55 782.6 v-4M620.59 782.6 v-4M628.64 782.6 v-4M636.68 782.6 v-4M644.73 782.6 v-4M652.77 782.6 v-4M668.86 782.6 v-4M676.90 782.6 v-4" stroke="#666" stroke-width="0.7" fill="none"/>
<text x="97.7" y="797.5" font-size="12.6" text-anchor="middle" fill="#000">65000</text>
<text x="178.1" y="797.5" font-size="12.6" text-anchor="middle" fill="#000">60000</text>
<text x="258.6" y="797.5" font-size="12.6" text-anchor="middle" fill="#000">55000</text>
<text x="339.0" y="797.5" font-size="12.6" text-anchor="middle" fill="#000">50000</text>
<text x="419.5" y="797.5" font-size="12.6" text-anchor="middle" fill="#000">45000</text>
<text x="499.9" y="797.5" font-size="12.6" text-anchor="middle" fill="#000">40000</text>
<text x="580.4" y="797.5" font-size="12.6" text-anchor="middle" fill="#000">35000</text>
<text x="660.8" y="797.5" font-size="12.6" text-anchor="middle" fill="#000">30000</text>
<text x="364.1" y="829.9" font-size="12.5" font-style="italic" text-anchor="middle" fill="#000">Modelled date (BP)</text>
<text x="55.0" y="182.7" font-size="7.5" fill="#000">OxCal v4.4.4 Bronk Ramsey (2021); r:5</text>
<text x="191.2" y="44.8" font-size="9.2" text-anchor="middle" fill="#3158a6">17</text>
<text x="225.3" y="44.8" font-size="9.2" text-anchor="middle" fill="#3158a6">16</text>
<text x="252.1" y="44.8" font-size="9.2" text-anchor="middle" fill="#3158a6">15</text>
<text x="308.1" y="44.8" font-size="9.2" text-anchor="middle" fill="#3158a6">14</text>
<text x="349.9" y="44.8" font-size="9.2" text-anchor="middle" fill="#3158a6">13</text>
<text x="390.3" y="44.8" font-size="9.2" text-anchor="middle" fill="#3158a6">12</text>
<text x="450.4" y="44.8" font-size="9.2" text-anchor="middle" fill="#3158a6">11</text>
<text x="480" y="44.8" font-size="9.2" text-anchor="middle" fill="#3158a6">10</text>
<text x="500.5" y="44.8" font-size="9.2" text-anchor="middle" fill="#3158a6">9</text>
<text x="531.2" y="44.8" font-size="9.2" text-anchor="middle" fill="#3158a6">8</text>
<text x="576" y="44.8" font-size="9.2" text-anchor="middle" fill="#3158a6">7</text>
<text x="604.1" y="44.8" font-size="9.2" text-anchor="middle" fill="#3158a6">6</text>
<text x="623.7" y="44.8" font-size="9.2" text-anchor="middle" fill="#3158a6">5</text>
<text transform="translate(30.0,233.8) rotate(-90)" font-size="10.7" font-weight="bold" text-anchor="middle" fill="#000">Cueva Millán</text>
<text transform="translate(32.0,310.2) rotate(-90)" font-size="10.2" font-weight="bold" text-anchor="middle" fill="#000">IUP</text>
<text transform="translate(31.3,391.3) rotate(-90)" font-size="10.7" font-weight="bold" text-anchor="middle" fill="#000">Europe</text>
<text transform="translate(31.3,722.0) rotate(-90)" font-size="10.7" font-weight="bold" text-anchor="middle" fill="#000">Eurosiberian</text>
<text transform="translate(25.9,482.0) rotate(-90)" font-size="9.5" font-weight="bold" text-anchor="middle" fill="#000">Thermo</text>
<text transform="translate(37.3,481.9) rotate(-90)" font-size="9.5" font-weight="bold" text-anchor="middle" fill="#000">mediterranean</text>
<text transform="translate(25.9,563.0) rotate(-90)" font-size="9.5" font-weight="bold" text-anchor="middle" fill="#000">Meso</text>
<text transform="translate(36.9,561.7) rotate(-90)" font-size="9.5" font-weight="bold" text-anchor="middle" fill="#000">mediterranean</text>
<text transform="translate(25.9,641.0) rotate(-90)" font-size="9.5" font-weight="bold" text-anchor="middle" fill="#000">Supra</text>
<text transform="translate(37.1,640.8) rotate(-90)" font-size="9.5" font-weight="bold" text-anchor="middle" fill="#000">mediterranean</text>
<text x="74.3" y="216.8" font-size="11.65" font-style="italic" fill="#000">Level 1</text>
<path d="M425.3 215.6 H455.5" stroke="#111" stroke-width="1.5" fill="none"/>
<path d="M425.6 213.9 v3.4 M455.2 213.9 v3.4" stroke="#111" stroke-width="0.9" fill="none"/>
<text x="74.3" y="236.0" font-size="11.65" font-style="italic" fill="#000">Level 2</text>
<path d="M373.2 234.8 H444.7" stroke="#111" stroke-width="1.5" fill="none"/>
<path d="M373.5 233.1 v3.4 M444.4 233.1 v3.4" stroke="#111" stroke-width="0.9" fill="none"/>
<text x="74.3" y="256.9" font-size="11.65" font-style="italic" fill="#000">Level 3</text>
<path d="M137.4 255.3 H430.6" stroke="#111" stroke-width="1.5" fill="none"/>
<path d="M137.70000000000002 253.6 v3.4 M430.3 253.6 v3.4" stroke="#111" stroke-width="0.9" fill="none"/>
<text x="74.3" y="293.6" font-size="11.65" font-style="italic" fill="#000">Bacho Kiro I</text>
<path d="M409.6 292.6 H441.9" stroke="#111" stroke-width="1.5" fill="none"/>
<path d="M409.90000000000003 290.9 v3.4 M441.59999999999997 290.9 v3.4" stroke="#111" stroke-width="0.9" fill="none"/>
<text x="74.3" y="311.6" font-size="11.65" font-style="italic" fill="#000">Mandrin</text>
<path d="M231.0 310.6 H310.6" stroke="#111" stroke-width="1.5" fill="none"/>
<path d="M231.3 308.9 v3.4 M310.3 308.9 v3.4" stroke="#111" stroke-width="0.9" fill="none"/>
<text x="74.3" y="329.3" font-size="11.65" font-style="italic" fill="#000">Brno-Bohunice</text>
<rect x="366.1" y="322.9" width="3.7" height="8.4" fill="#111"/>
<text x="74.3" y="367.8" font-size="11.65" font-style="italic" fill="#000">Châtelperronian</text>
<path d="M438.2 366.1 H507.9" stroke="#111" stroke-width="1.5" fill="none"/>
<path d="M438.5 364.4 v3.4 M507.59999999999997 364.4 v3.4" stroke="#111" stroke-width="0.9" fill="none"/>
<text x="74.3" y="388.7" font-size="11.65" font-style="italic" fill="#000">LRJ</text>
<path d="M379.6 387.2 H447.9" stroke="#111" stroke-width="1.5" fill="none"/>
<path d="M379.90000000000003 385.5 v3.4 M447.59999999999997 385.5 v3.4" stroke="#111" stroke-width="0.9" fill="none"/>
<text x="74.3" y="408.4" font-size="11.65" font-style="italic" fill="#000">Uluzzian</text>
<path d="M387.8 408.0 H513.1" stroke="#111" stroke-width="1.5" fill="none"/>
<path d="M388.1 406.3 v3.4 M512.8000000000001 406.3 v3.4" stroke="#111" stroke-width="0.9" fill="none"/>
<text x="74.3" y="426.6" font-size="11.65" font-style="italic" fill="#000">End Mousterian</text>
<path d="M483.9 424.9 H512.6" stroke="#111" stroke-width="1.5" fill="none"/>
<path d="M484.2 423.2 v3.4 M512.3000000000001 423.2 v3.4" stroke="#111" stroke-width="0.9" fill="none"/>
<text x="74.3" y="464.1" font-size="11.65" font-style="italic" fill="#000">Aurignacian</text>
<path d="M461.4 463.3 H476.9" stroke="#111" stroke-width="1.8" fill="none"/>
<path d="M461.7 461.6 v3.4 M476.59999999999997 461.6 v3.4 M469.4 463.3 v-3.7" stroke="#111" stroke-width="0.9" fill="none"/>
<text x="74.3" y="485.9" font-size="11.65" font-style="italic" fill="#000">Châtelperronian</text>
<path d="M456.1 483.7 H513.2" stroke="#111" stroke-width="1.8" fill="none"/>
<path d="M456.40000000000003 482.0 v3.4 M512.9000000000001 482.0 v3.4 M499.6 483.7 v-3.7" stroke="#111" stroke-width="0.9" fill="none"/>
<text x="74.3" y="507.0" font-size="11.65" font-style="italic" fill="#000">End Mousterian</text>
<path d="M554.8 505.2 H617.5" stroke="#111" stroke-width="1.8" fill="none"/>
<path d="M555.0999999999999 503.5 v3.4 M617.2 503.5 v3.4 M570.1 505.2 v-3.7" stroke="#111" stroke-width="0.9" fill="none"/>
<text x="74.3" y="553.7" font-size="11.65" font-style="italic" fill="#000">Aurignacian</text>
<path d="M458.3 552.7 H477.7" stroke="#111" stroke-width="1.8" fill="none"/>
<path d="M458.6 551.0 v3.4 M477.4 551.0 v3.4 M468.3 552.7 v-3.7" stroke="#111" stroke-width="0.9" fill="none"/>
<text x="74.3" y="580.7" font-size="11.65" font-style="italic" fill="#000">End Mousterian</text>
<path d="M470.0 579.1 H486.9" stroke="#111" stroke-width="1.8" fill="none"/>
<path d="M470.3 577.4 v3.4 M486.59999999999997 577.4 v3.4 M479.9 579.1 v-3.7" stroke="#111" stroke-width="0.9" fill="none"/>
<text x="74.3" y="643.4" font-size="11.65" font-style="italic" fill="#000">End Mousterian</text>
<path d="M455.3 641.2 H492.2" stroke="#111" stroke-width="1.8" fill="none"/>
<path d="M455.6 639.5 v3.4 M491.9 639.5 v3.4 M468.0 641.2 v-3.7" stroke="#111" stroke-width="0.9" fill="none"/>
<text x="74.3" y="699.6" font-size="11.65" font-style="italic" fill="#000">Aurignacian</text>
<path d="M446.6 699.4 H467.6" stroke="#111" stroke-width="1.8" fill="none"/>
<path d="M446.90000000000003 697.7 v3.4 M467.3 697.7 v3.4 M459.9 699.4 v-3.7" stroke="#111" stroke-width="0.9" fill="none"/>
<text x="74.3" y="717.4" font-size="11.65" font-style="italic" fill="#000">El Castillo 18</text>
<path d="M404.4 716.9 H438.5" stroke="#111" stroke-width="1.8" fill="none"/>
<path d="M404.7 715.2 v3.4 M438.2 715.2 v3.4" stroke="#111" stroke-width="0.9" fill="none"/>
<text x="74.3" y="734.0" font-size="11.65" font-style="italic" fill="#000">Châtelperronian</text>
<path d="M435.7 732.7 H467.6" stroke="#111" stroke-width="1.8" fill="none"/>
<path d="M436.0 731.0 v3.4 M467.3 731.0 v3.4 M462.9 732.7 v-3.7" stroke="#111" stroke-width="0.9" fill="none"/>
<text x="74.3" y="751.9" font-size="11.65" font-style="italic" fill="#000">End Mousterian</text>
<path d="M387.2 751.3 H435.7" stroke="#111" stroke-width="1.8" fill="none"/>
<path d="M387.5 749.6 v3.4 M435.4 749.6 v3.4 M419.7 751.3 v-3.7" stroke="#111" stroke-width="0.9" fill="none"/>
</g>
</svg></body></html>
